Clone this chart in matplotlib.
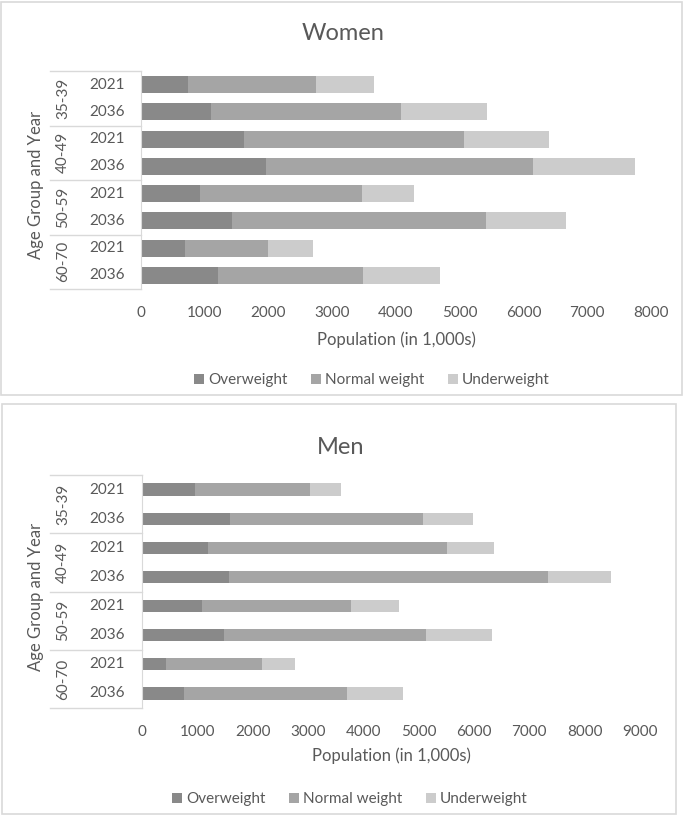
import numpy as np
import matplotlib.pyplot as plt
import matplotlib.transforms as mtrans
from matplotlib.patches import Rectangle
from matplotlib.lines import Line2D

plt.rcParams['font.family'] = ['Lato', 'DejaVu Sans']

groups = ['35-39', '40-49', '50-59', '60-70']
years = ['2021', '2036']
series = ['Overweight', 'Normal weight', 'Underweight']
colors = ['#898989', '#a5a5a5', '#cccccc']

# rows: 35-39 2021, 35-39 2036, 40-49 2021, ... 60-70 2036 (in 1,000s)
women_over = [740, 1100, 1620, 1960, 920, 1430, 690, 1200]
women_normal = [2005, 2980, 3450, 4190, 2550, 3980, 1300, 2275]
women_under = [910, 1350, 1325, 1595, 810, 1260, 705, 1220]

men_over = [950, 1590, 1190, 1580, 1080, 1480, 440, 760]
men_normal = [2090, 3485, 4320, 5750, 2700, 3660, 1730, 2940]
men_under = [555, 915, 860, 1150, 860, 1180, 600, 1020]

TXT = '#595959'
GRID = '#d9d9d9'
W, H = 685, 816

fig = plt.figure(figsize=(W / 100, H / 100), dpi=100)


def fx(px):
    return px / W


def fy(py):
    return 1 - py / H


def panel(title, over, normal, under, box, ax_px, xmax, bar_h, title_xy, tick_y, xlab_y, leg_xy):
    x0, y0, x1, y1 = box
    fig.add_artist(Rectangle((fx(x0), fy(y1)), fx(x1 - x0), (y1 - y0) / H,
                             transform=fig.transFigure, fill=False,
                             edgecolor=GRID, linewidth=1.2))
    l, t, r, b = ax_px
    ax = fig.add_axes([fx(l), fy(b), fx(r - l), (b - t) / H])
    y = np.arange(8)
    left = np.zeros(8)
    for vals, name, c in zip([over, normal, under], series, colors):
        ax.barh(y, vals, left=left, height=bar_h, color=c, label=name,
                edgecolor='none')
        left = left + np.array(vals)
    ax.set_ylim(7.5, -0.5)
    ax.set_xlim(0, xmax)
    ax.set_xticks(np.arange(0, xmax + 1, 1000))
    ax.set_yticks([])
    for s in ['top', 'right', 'bottom']:
        ax.spines[s].set_visible(False)
    ax.spines['left'].set_color(GRID)
    ax.tick_params(axis='x', length=0, labelsize=11, colors=TXT,
                   pad=(tick_y - b) * 0.72 - 5.5)

    tr = mtrans.blended_transform_factory(fig.transFigure, ax.transData)
    for i in range(8):
        ax.text(fx(107), i, years[i % 2], transform=tr, ha='center',
                va='center', fontsize=11, color=TXT)
    for g in range(4):
        ax.text(fx(63), 2 * g + 0.5, groups[g], transform=tr, ha='center',
                va='center', fontsize=11, color=TXT, rotation=90)
    for k in range(5):
        ax.add_line(Line2D([fx(50), fx(l)], [2 * k - 0.5, 2 * k - 0.5],
                           transform=tr, color=GRID, linewidth=1, clip_on=False))
    fig.text(fx(36), fy((t + b) / 2 + 5), 'Age Group and Year', rotation=90,
             ha='center', va='center', fontsize=12, color=TXT)

    fig.text(fx(title_xy[0]), fy(title_xy[1]), title, ha='center',
             va='center', fontsize=17, color=TXT)
    fig.text(fx((l + r) / 2), fy(xlab_y), 'Population (in 1,000s)',
             ha='center', va='center', fontsize=12, color=TXT)
    leg = fig.legend(*ax.get_legend_handles_labels(), loc='center',
                     bbox_to_anchor=(fx(leg_xy[0]), fy(leg_xy[1])), ncol=3,
                     frameon=False, fontsize=11, handlelength=0.65,
                     handleheight=0.65, handletextpad=0.3, columnspacing=1.5)
    for txt in leg.get_texts():
        txt.set_color(TXT)
    return ax


panel('Women', women_over, women_normal, women_under,
      (1, 2, 682, 395), (141, 71, 651, 289), 8000, 0.62,
      (343, 33), 314, 340, (372, 380))
panel('Men', men_over, men_normal, men_under,
      (2, 404, 676, 814), (142, 475, 640, 708), 9000, 0.42,
      (341, 447), 733, 756, (350, 799))

fig.savefig('out.png', dpi=100, facecolor='white')
